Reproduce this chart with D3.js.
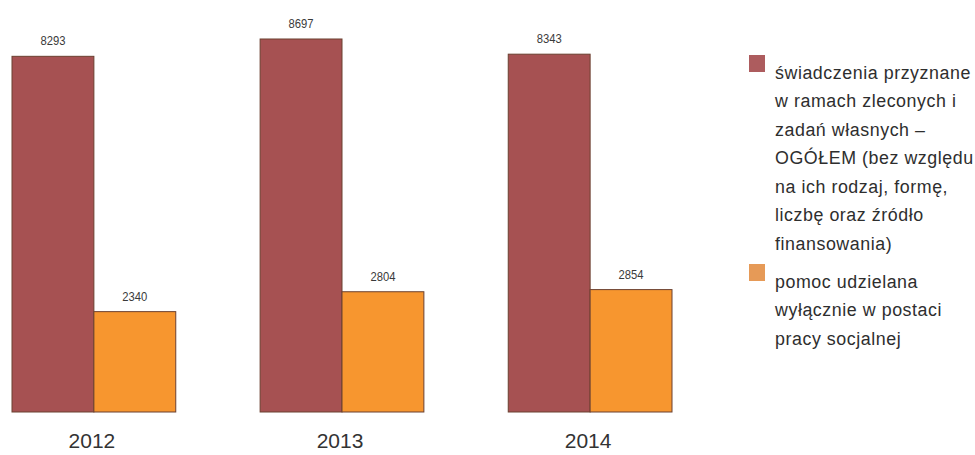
<!DOCTYPE html>
<html>
<head>
<meta charset="utf-8">
<script src="https://cdn.jsdelivr.net/npm/d3@7"></script>
<style>
body{margin:0;background:#fff;}
svg{display:block;}
.val{font-family:"Liberation Sans",Arial,sans-serif;font-size:12.5px;fill:#3a3a3a;}
.year{font-family:"Liberation Sans",Arial,sans-serif;font-size:21px;fill:#333;}
.leg{font-family:"Liberation Sans",Arial,sans-serif;font-size:19px;fill:#2e2e2e;letter-spacing:0.6px;}
</style>
</head>
<body>
<svg></svg>
<script>
// chart data
var years=["2012","2013","2014"];
var benefitsTotal=[8293,8697,8343];
var socialWorkOnly=[2340,2804,2854];
var seriesKeys=["total","work"];
var seriesColors=["#a65152","#f7962f"];
var legendColors=["#ad5c5e","#e69a57"];
var legendLines=[
	["świadczenia przyznane","w ramach zleconych i","zadań własnych –","OGÓŁEM (bez względu","na ich rodzaj, formę,","liczbę oraz źródło","finansowania)"],
	["pomoc udzielana","wyłącznie w postaci","pracy socjalnej"]
];

var width=975, height=455;
var svg=d3.select("svg").attr("width",width).attr("height",height);

var table=years.map(function(y,i) {
	return {year:y,values:[benefitsTotal[i],socialWorkOnly[i]]};
});

var x0=d3.scaleBand().domain(years).range([12,672]).paddingInner(0.34).paddingOuter(0);
var x1=d3.scaleBand().domain(seriesKeys).range([0,x0.bandwidth()]);
var y=d3.scaleLinear().domain([0,9000]).range([412,26]);

var groups=svg.selectAll(".grp").data(table).enter()
	.append("g").classed("grp",true)
	.attr("transform",function(d) {return "translate("+x0(d.year)+",0)";});

groups.selectAll("rect").data(function(d) {return d.values;}).enter()
	.append("rect")
	.attr("x",function(d,i) {return x1(seriesKeys[i]);})
	.attr("y",function(d) {return y(d);})
	.attr("width",x1.bandwidth())
	.attr("height",function(d) {return y(0)-y(d);})
	.attr("fill",function(d,i) {return seriesColors[i];})
	.attr("stroke","#6b4030")
	.attr("stroke-width",1);

// value labels, a bit narrow like the source
groups.selectAll(".val").data(function(d) {return d.values;}).enter()
	.append("text").classed("val",true)
	.attr("text-anchor","middle")
	.attr("transform",function(d,i) {
		return "translate("+(x1(seriesKeys[i])+x1.bandwidth()/2)+","+(y(d)-11)+") scale(0.9,1)";
	})
	.text(function(d) {return d;});

// year labels under each group
var xAxis=d3.axisBottom(x0).tickSize(0).tickPadding(0);
var ax=svg.append("g").attr("transform","translate(-2,433)").call(xAxis);
ax.select(".domain").remove();
ax.selectAll("text").attr("class","year").attr("fill",null).attr("font-size",null).attr("font-family",null);

// legend
var legTop=[79,288];
var lineStep=28.5;
var legX=775, legWidth=196;
var leg=svg.append("g");
var legText=svg.append("g");
legendLines.forEach(function(lines,k) {
	leg.append("rect")
		.attr("x",749).attr("y",legTop[k]-24)
		.attr("width",16).attr("height",17)
		.attr("fill",legendColors[k]);
	legText.selectAll(".l"+k).data(lines).enter()
		.append("text").attr("class","leg l"+k)
		.attr("x",0)
		.attr("y",function(d,i) {return legTop[k]+i*lineStep;})
		.text(function(d) {return d;});
});
// the source font is a narrow one, so squeeze the legend text to its width
var widest=legText.select("text").node().getComputedTextLength();
legText.attr("transform","translate("+legX+",0) scale("+(legWidth/widest)+",1)");
</script>
</body>
</html>
